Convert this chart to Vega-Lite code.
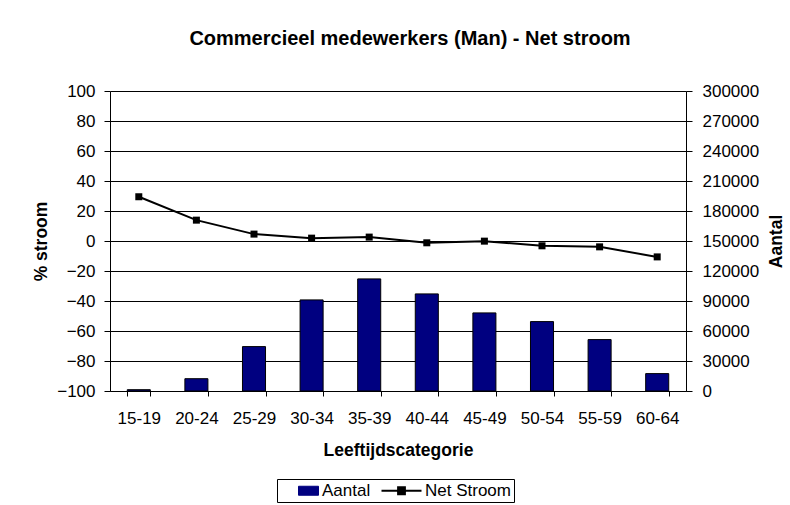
{
  "$schema": "https://vega.github.io/schema/vega-lite/v6.json",
  "width": 576,
  "height": 300,
  "autosize": {"type": "none"},
  "padding": {"left": 110, "top": 91, "right": 104, "bottom": 114},
  "background": "white",
  "config": {
    "font": "Liberation Sans",
    "view": {"stroke": null},
    "axis": {
      "labelFont": "Liberation Sans",
      "labelFontSize": 17,
      "labelColor": "#000",
      "titleFont": "Liberation Sans",
      "titleFontSize": 17.5,
      "titleFontWeight": "bold",
      "titleColor": "#000",
      "domainColor": "#000",
      "tickColor": "#000",
      "gridColor": "#000",
      "gridOpacity": 1
    },
    "legend": {
      "orient": "none",
      "legendX": 167,
      "legendY": 388,
      "direction": "horizontal",
      "strokeColor": "#000",
      "fillColor": "#fff",
      "padding": 3,
      "symbolSize": 400,
      "labelFont": "Liberation Sans",
      "labelFontSize": 17,
      "labelColor": "#000",
      "labelOffset": 25,
      "columnPadding": 6
    }
  },
  "title": {
    "text": "Commercieel medewerkers (Man) - Net stroom",
    "font": "Liberation Sans",
    "fontSize": 20,
    "fontWeight": "bold",
    "color": "#000",
    "anchor": "middle",
    "dx": 12,
    "offset": 33
  },
  "data": {
    "values": [
      {"cat": "15-19", "aantal": 1300, "net": 29.5},
      {"cat": "20-24", "aantal": 12300, "net": 13.9},
      {"cat": "25-29", "aantal": 44400, "net": 4.6},
      {"cat": "30-34", "aantal": 91100, "net": 1.9},
      {"cat": "35-39", "aantal": 112100, "net": 2.6},
      {"cat": "40-44", "aantal": 97100, "net": -1.2},
      {"cat": "45-49", "aantal": 78100, "net": -0.1},
      {"cat": "50-54", "aantal": 69400, "net": -3.2},
      {"cat": "55-59", "aantal": 51400, "net": -3.9},
      {"cat": "60-64", "aantal": 17400, "net": -10.6}
    ]
  },
  "encoding": {
    "x": {
      "field": "cat",
      "type": "nominal",
      "sort": null,
      "scale": {"paddingInner": 0.6, "paddingOuter": 0.3},
      "axis": {
        "title": "Leeftijdscategorie",
        "labelAngle": 0,
        "tickBand": "extent",
        "tickSize": 5,
        "labelPadding": 14,
        "titlePadding": 15,
        "grid": false
      }
    }
  },
  "layer": [
    {
      "mark": {"type": "bar", "stroke": "#000", "strokeWidth": 1},
      "encoding": {
        "y": {
          "field": "aantal",
          "type": "quantitative",
          "scale": {"domain": [0, 300000], "nice": false},
          "axis": {
            "orient": "right",
            "title": "Aantal",
            "titleAngle": 270,
            "titleBaseline": "top",
            "values": [0, 30000, 60000, 90000, 120000, 150000, 180000, 210000, 240000, 270000, 300000],
            "format": "d",
            "grid": false,
            "tickSize": 6,
            "labelPadding": 10,
            "titlePadding": 9
          }
        },
        "color": {
          "datum": "Aantal",
          "scale": {"domain": ["Aantal", "Net Stroom"], "range": ["#000080", "#000000"]},
          "legend": {
            "title": null,
            "encode": {
              "symbols": {
                "update": {
                  "shape": {"signal": "datum.value === 'Aantal' ? 'M1,-0.45H3V0.45H1Z' : 'M-1,0H3M0.66,-0.34H1.34V0.34H0.66Z'"},
                  "fill": {"signal": "datum.value === 'Aantal' ? '#000080' : '#000000'"},
                  "stroke": {"value": "#000"},
                  "strokeWidth": {"signal": "datum.value === 'Aantal' ? 1 : 2"},
                  "opacity": {"value": 1}
                }
              }
            }
          }
        }
      }
    },
    {
      "mark": {
        "type": "line",
        "strokeWidth": 2,
        "point": {"shape": "square", "filled": true, "size": 49, "color": "#000", "opacity": 1}
      },
      "encoding": {
        "y": {
          "field": "net",
          "type": "quantitative",
          "scale": {"domain": [-100, 100], "nice": false},
          "axis": {
            "orient": "left",
            "title": "% stroom",
            "values": [-100, -80, -60, -40, -20, 0, 20, 40, 60, 80, 100],
            "grid": true,
            "tickSize": 6,
            "labelPadding": 9,
            "titlePadding": 6
          }
        },
        "color": {
          "datum": "Net Stroom",
          "legend": {
            "title": null,
            "encode": {
              "symbols": {
                "update": {
                  "shape": {"signal": "datum.value === 'Aantal' ? 'M1,-0.45H3V0.45H1Z' : 'M-1,0H3M0.66,-0.34H1.34V0.34H0.66Z'"},
                  "fill": {"signal": "datum.value === 'Aantal' ? '#000080' : '#000000'"},
                  "stroke": {"value": "#000"},
                  "strokeWidth": {"signal": "datum.value === 'Aantal' ? 1 : 2"},
                  "opacity": {"value": 1}
                }
              }
            }
          }
        }
      }
    }
  ],
  "resolve": {"scale": {"y": "independent"}, "axis": {"y": "independent"}}
}
